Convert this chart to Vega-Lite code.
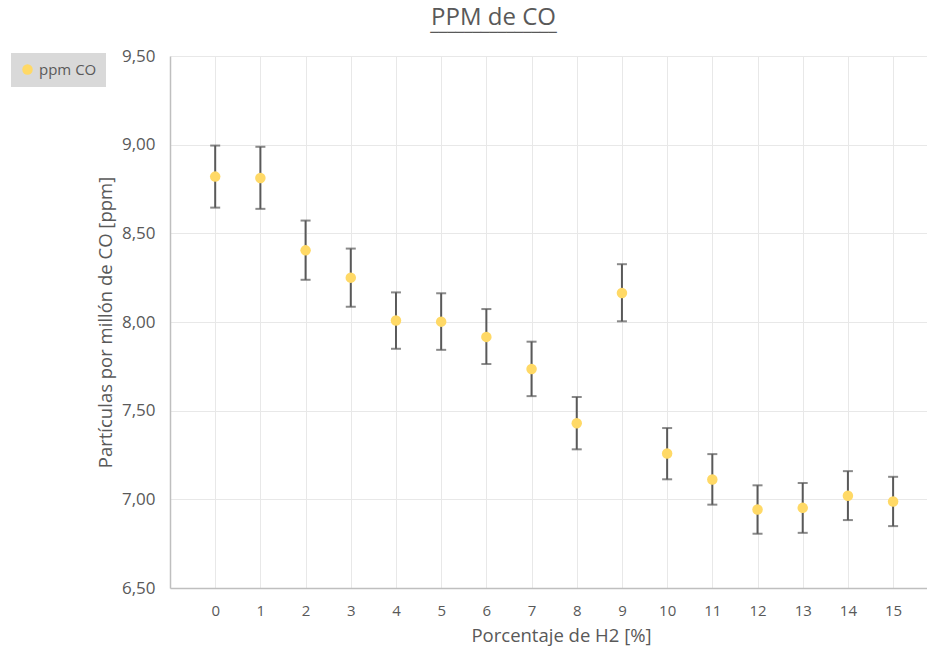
{
  "$schema": "https://vega.github.io/schema/vega-lite/v6.json",
  "autosize": "none",
  "width": 757,
  "height": 532,
  "padding": {"left": 170, "top": 56, "right": 0, "bottom": 66},
  "background": "white",
  "title": {
    "text": "PPM de CO",
    "subtitle": "───────────────",
    "anchor": "middle",
    "frame": "group",
    "dx": -55,
    "offset": 7,
    "font": "Open Sans",
    "fontSize": 24,
    "fontWeight": "normal",
    "color": "#595959",
    "subtitleFont": "DejaVu Sans Mono",
    "subtitleFontSize": 14,
    "subtitleColor": "#595959",
    "subtitlePadding": -4
  },
  "config": {
    "view": {"stroke": null},
    "font": "Open Sans",
    "axis": {
      "labelFont": "Open Sans",
      "titleFont": "Open Sans",
      "labelColor": "#595959",
      "titleColor": "#595959",
      "titleFontWeight": "normal",
      "gridColor": "#e8e8e8",
      "gridWidth": 1,
      "domainColor": "#bfbfbf",
      "domainWidth": 1.5,
      "ticks": false
    }
  },
  "data": {
    "values": [
      {"h2": 0, "ppm": 8.82, "lo": 8.645, "hi": 8.995},
      {"h2": 1, "ppm": 8.812, "lo": 8.638, "hi": 8.988},
      {"h2": 2, "ppm": 8.404, "lo": 8.238, "hi": 8.572},
      {"h2": 3, "ppm": 8.25, "lo": 8.086, "hi": 8.414},
      {"h2": 4, "ppm": 8.008, "lo": 7.849, "hi": 8.167},
      {"h2": 5, "ppm": 8.002, "lo": 7.843, "hi": 8.162},
      {"h2": 6, "ppm": 7.916, "lo": 7.763, "hi": 8.073},
      {"h2": 7, "ppm": 7.735, "lo": 7.582, "hi": 7.889},
      {"h2": 8, "ppm": 7.429, "lo": 7.282, "hi": 7.577},
      {"h2": 9, "ppm": 8.164, "lo": 8.004, "hi": 8.326},
      {"h2": 10, "ppm": 7.258, "lo": 7.113, "hi": 7.402},
      {"h2": 11, "ppm": 7.112, "lo": 6.97, "hi": 7.255},
      {"h2": 12, "ppm": 6.943, "lo": 6.806, "hi": 7.079},
      {"h2": 13, "ppm": 6.952, "lo": 6.811, "hi": 7.092},
      {"h2": 14, "ppm": 7.02, "lo": 6.883, "hi": 7.159},
      {"h2": 15, "ppm": 6.988, "lo": 6.849, "hi": 7.127}
    ]
  },
  "layer": [
    {
      "mark": {
        "type": "errorbar",
        "ticks": {"size": 10, "thickness": 2, "color": "#595959"},
        "rule": {"strokeWidth": 2, "color": "#595959"}
      },
      "encoding": {
        "x": {
          "field": "h2",
          "type": "quantitative",
          "scale": {"domain": [-1, 15.75], "nice": false, "zero": false},
          "axis": {
            "values": [0, 1, 2, 3, 4, 5, 6, 7, 8, 9, 10, 11, 12, 13, 14, 15],
            "title": "Porcentaje de H2 [%]",
            "labelFontSize": 15,
            "labelPadding": 15,
            "titleFontSize": 18.5,
            "titlePadding": 8,
            "titleX": 391,
            "labelFlush": false
          }
        },
        "y": {
          "field": "lo",
          "type": "quantitative",
          "scale": {"domain": [6.5, 9.5], "nice": false, "zero": false},
          "axis": {
            "values": [6.5, 7, 7.5, 8, 8.5, 9, 9.5],
            "format": ".2f",
            "labelExpr": "replace(datum.label, '.', ',')",
            "title": "Partículas por millón de  CO [ppm]",
            "labelFontSize": 17,
            "labelPadding": 15,
            "titleFontSize": 18.5,
            "titlePadding": 6,
            "labelFlush": false
          }
        },
        "y2": {"field": "hi"}
      }
    },
    {
      "mark": {"type": "point", "filled": true, "shape": "circle", "size": 110, "opacity": 1},
      "encoding": {
        "x": {"field": "h2", "type": "quantitative"},
        "y": {"field": "ppm", "type": "quantitative"},
        "color": {
          "datum": "ppm CO",
          "type": "nominal",
          "scale": {"range": ["#FFD966"]},
          "legend": {
            "title": null,
            "orient": "none",
            "legendX": -159,
            "legendY": -3,
            "fillColor": "#d9d9d9",
            "padding": 9,
            "symbolType": "circle",
            "symbolSize": 110,
            "labelFontSize": 15,
            "labelColor": "#595959",
            "labelFont": "Open Sans",
            "labelOffset": 4
          }
        }
      }
    }
  ]
}
